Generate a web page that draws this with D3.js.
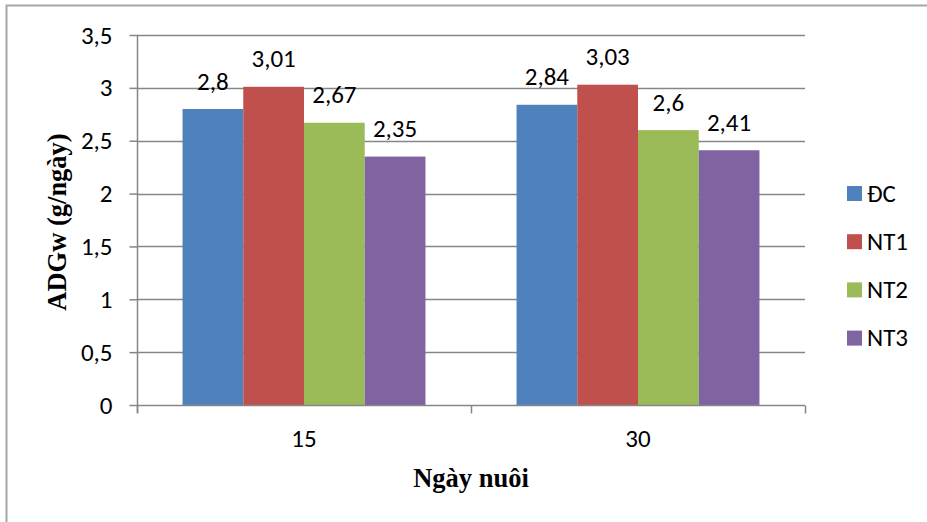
<!DOCTYPE html>
<html>
<head>
<meta charset="utf-8">
<script src="https://cdn.jsdelivr.net/npm/d3@7"></script>
<style>
  html, body { margin: 0; padding: 0; background: #fff; }
  svg { display: block; }
  .tick-label { font-family: Carlito, Calibri, "Open Sans", sans-serif; font-size: 25px; fill: #000; }
  .axis-title { font-family: "Liberation Serif", "Times New Roman", serif; font-weight: bold; font-size: 26.5px; fill: #000; }
</style>
</head>
<body>
<svg id="chart" width="927" height="522"></svg>
<script>
// Days of rearing (x categories)
const categories = ["15", "30"];
// Treatment groups
const seriesNames = ["ĐC", "NT1", "NT2", "NT3"];
const seriesColors = ["#4F81BD", "#C0504D", "#9BBB59", "#8064A2"];
// ADGw per treatment, one array per day
const values15 = [2.8, 3.01, 2.67, 2.35];
const values30 = [2.84, 3.03, 2.6, 2.41];
const valueLabels15 = ["2,8", "3,01", "2,67", "2,35"];
const valueLabels30 = ["2,84", "3,03", "2,6", "2,41"];
const yTicks = [0, 0.5, 1, 1.5, 2, 2.5, 3, 3.5];

const rows = [
  { cat: categories[0], vals: values15, labels: valueLabels15 },
  { cat: categories[1], vals: values30, labels: valueLabels30 }
];

const svg = d3.select("#chart");
const fmt = v => String(v).replace(".", ",");

// Outer chart frame
svg.append("rect")
  .attr("x", 6.5).attr("y", 5.5)
  .attr("width", 940).attr("height", 540)
  .attr("fill", "none").attr("stroke", "#a6a6a6").attr("stroke-width", 2);

const plot = { left: 137, right: 805, top: 35, bottom: 405 };

const x0 = d3.scaleBand().domain(categories).range([plot.left, plot.right]).paddingInner(0).paddingOuter(0);
// 150% gap width: bars take 4/(4+1.5) of each band
const bandPad = (1.5 / 5.5) / 2;
const x1 = d3.scaleBand().domain(seriesNames)
  .range([x0.bandwidth() * bandPad, x0.bandwidth() * (1 - bandPad)]);
const y = d3.scaleLinear().domain([0, 3.5]).range([plot.bottom, plot.top]);

// Horizontal gridlines
svg.append("g").selectAll("line").data(yTicks.filter(t => t > 0)).join("line")
  .attr("x1", plot.left).attr("x2", plot.right)
  .attr("y1", d => Math.round(y(d)) + 0.5).attr("y2", d => Math.round(y(d)) + 0.5)
  .attr("stroke", "#868686").attr("stroke-width", 1.5);

// Bars
const groups = svg.append("g").selectAll("g").data(rows).join("g")
  .attr("transform", d => `translate(${x0(d.cat)},0)`);

groups.selectAll("rect")
  .data(d => d.vals.map((v, i) => ({ name: seriesNames[i], v, color: seriesColors[i], label: d.labels[i] })))
  .join("rect")
  .attr("x", d => x1(d.name))
  .attr("width", x1.bandwidth())
  .attr("y", d => y(d.v))
  .attr("height", d => y(0) - y(d.v))
  .attr("fill", d => d.color);

// Value labels
groups.selectAll("text")
  .data(d => d.vals.map((v, i) => ({ name: seriesNames[i], v, label: d.labels[i] })))
  .join("text")
  .attr("class", "tick-label")
  .attr("text-anchor", "middle")
  .attr("x", d => x1(d.name) + x1.bandwidth() / 2)
  .attr("y", d => y(d.v) - 19.5)
  .text(d => d.label);

// Y axis
const yAxis = svg.append("g")
  .attr("transform", `translate(${plot.left + 0.5},0)`)
  .call(d3.axisLeft(y).tickValues(yTicks).tickSize(8).tickPadding(17).tickFormat(fmt));
yAxis.select(".domain").attr("d", `M0,${plot.top}V${plot.bottom + 8}`);
yAxis.selectAll("path, line").attr("stroke", "#868686").attr("stroke-width", 1.5);
yAxis.selectAll("text").attr("class", "tick-label").attr("font-family", null).attr("font-size", null).attr("dy", "0.32em");

// X axis
const xAxis = svg.append("g")
  .attr("transform", `translate(0,${plot.bottom + 0.5})`)
  .call(d3.axisBottom(x0).tickSize(0).tickPadding(23.5));
xAxis.select(".domain").attr("d", `M${plot.left},0H${plot.right}`);
xAxis.selectAll("path, line").attr("stroke", "#868686").attr("stroke-width", 1.5);
xAxis.selectAll("text").attr("class", "tick-label").attr("font-family", null).attr("font-size", null);
// Category boundary ticks
xAxis.append("g").selectAll("line")
  .data([plot.left, x0(categories[1]), plot.right]).join("line")
  .attr("x1", d => d + 0.5).attr("x2", d => d + 0.5)
  .attr("y1", 0).attr("y2", 8)
  .attr("stroke", "#868686").attr("stroke-width", 1.5);

// Axis titles
svg.append("text").attr("class", "axis-title")
  .attr("text-anchor", "middle")
  .attr("x", (plot.left + plot.right) / 2).attr("y", 487)
  .text("Ngày nuôi");

svg.append("text").attr("class", "axis-title")
  .attr("text-anchor", "middle")
  .attr("transform", `translate(66,222) rotate(-90)`)
  .text("ADGw (g/ngày)");

// Legend
const legend = svg.append("g").selectAll("g").data(seriesNames).join("g")
  .attr("transform", (d, i) => `translate(847,${193.5 + i * 48.2})`);
legend.append("rect")
  .attr("x", 0).attr("y", -7.5).attr("width", 15).attr("height", 15)
  .attr("fill", (d, i) => seriesColors[i]);
legend.append("text")
  .attr("class", "tick-label")
  .attr("x", 20).attr("y", 0).attr("dy", "0.32em")
  .text(d => d);
</script>
</body>
</html>
